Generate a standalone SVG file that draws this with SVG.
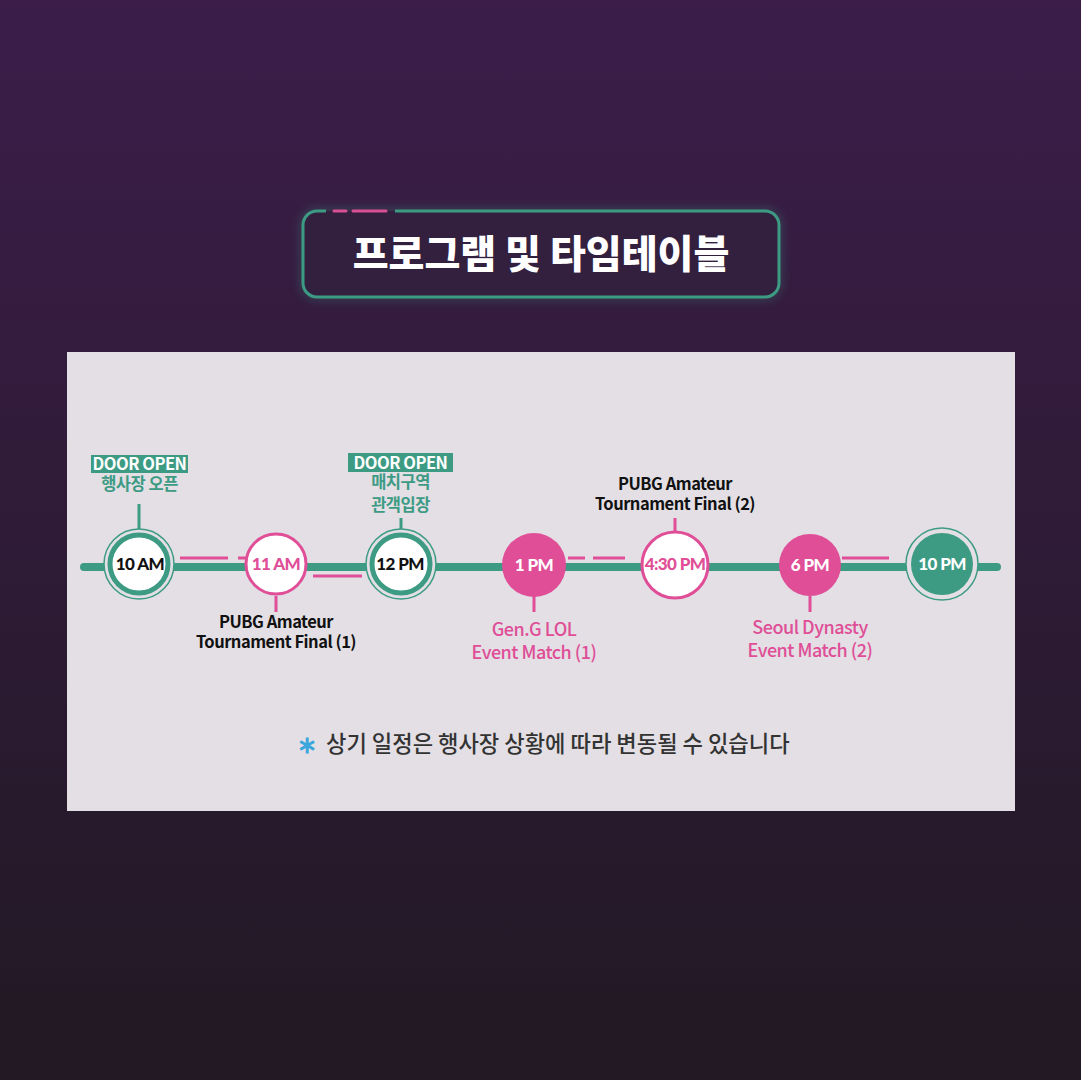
<svg xmlns="http://www.w3.org/2000/svg" width="1081" height="1080" viewBox="0 0 1081 1080">
<defs>
<linearGradient id="bg" x1="0" y1="0" x2="0" y2="1">
<stop offset="0" stop-color="#3c1d4a"/>
<stop offset="1" stop-color="#211923"/>
</linearGradient>
<filter id="glow" x="-10%" y="-30%" width="120%" height="160%">
<feGaussianBlur stdDeviation="5"/>
</filter>
<style>
.kr{font-family:"Noto Sans CJK KR","Noto Sans",sans-serif}
.tl{font-family:Lato,"Noto Sans CJK KR",sans-serif;font-weight:900;font-size:17px;text-anchor:middle;letter-spacing:-0.6px}
.lbl{font-family:"Noto Sans CJK KR","Noto Sans",sans-serif;font-weight:700;font-size:16.5px;text-anchor:middle;letter-spacing:-0.5px}
.pk{font-family:"Noto Sans CJK KR","Noto Sans",sans-serif;font-weight:500;font-size:18px;text-anchor:middle;fill:#df4e97;letter-spacing:-0.5px}
.stemT{stroke:#3d9b84;stroke-width:3}
.stemP{stroke:#df4e97;stroke-width:3}
.dash{stroke:#df4e97;stroke-width:3;fill:none}
</style>
</defs>
<rect width="1081" height="1080" fill="url(#bg)"/>
<g id="title">
<rect x="303" y="211" width="476" height="86" rx="14" fill="none" stroke="#3d9b84" stroke-width="6" opacity="0.35" filter="url(#glow)"/>
<rect x="303" y="211" width="476" height="86" rx="14" fill="#33203f"/>
<path d="M326 211 H317 A14 14 0 0 0 303 225 V283 A14 14 0 0 0 317 297 H765 A14 14 0 0 0 779 283 V225 A14 14 0 0 0 765 211 H395" fill="none" stroke="#3d9b84" stroke-width="3"/>
<line x1="334" y1="211" x2="346" y2="211" stroke="#d94f96" stroke-width="3" stroke-linecap="round"/>
<line x1="353" y1="211" x2="386" y2="211" stroke="#d94f96" stroke-width="3" stroke-linecap="round"/>
<text x="541" y="268" class="kr" font-size="39" font-weight="900" fill="#ffffff" text-anchor="middle">프로그램 및 타임테이블</text>
</g>
<rect id="panel" x="67" y="352" width="948" height="459" fill="#e3dfe4"/>
<g id="connectors">
<line x1="84" y1="567" x2="997" y2="567" stroke="#3d9b84" stroke-width="8" stroke-linecap="round"/>
<line x1="139" y1="504" x2="139" y2="533" class="stemT"/>
<line x1="401" y1="518" x2="401" y2="533" class="stemT"/>
<line x1="276" y1="596" x2="276" y2="612" class="stemP"/>
<line x1="534" y1="596" x2="534" y2="612" class="stemP"/>
<line x1="675" y1="518" x2="675" y2="533" class="stemP"/>
<line x1="810" y1="596" x2="810" y2="612" class="stemP"/>
<line x1="180" y1="558" x2="228" y2="558" class="dash"/>
<line x1="238" y1="558" x2="246" y2="558" class="dash"/>
<line x1="313" y1="576" x2="362" y2="576" class="dash"/>
<line x1="568" y1="558" x2="585" y2="558" class="dash"/>
<line x1="593" y1="558" x2="625" y2="558" class="dash"/>
<line x1="842" y1="558" x2="889" y2="558" class="dash"/>
</g>
<g id="n10am">
<circle cx="139" cy="564" r="35" fill="#e3dfe4" stroke="#3d9b84" stroke-width="1.5"/>
<circle cx="139" cy="564" r="29" fill="#ffffff" stroke="#3d9b84" stroke-width="5"/>
<text x="140" y="570" class="tl" fill="#111111">10 AM</text>
<rect x="91" y="455" width="97" height="18" fill="#3d9b84"/>
<text x="139.5" y="470" class="lbl" fill="#ffffff">DOOR OPEN</text>
<text x="139.5" y="490" class="lbl" fill="#3d9b84">행사장 오픈</text>
</g>
<g id="n11am">
<circle cx="276" cy="564" r="30" fill="#ffffff" stroke="#df4e97" stroke-width="3"/>
<text x="276" y="570" class="tl" fill="#df4e97">11 AM</text>
<text x="276" y="628" class="lbl" fill="#111111">PUBG Amateur</text>
<text x="276" y="648" class="lbl" fill="#111111">Tournament Final (1)</text>
</g>
<g id="n12pm">
<circle cx="401" cy="564" r="35" fill="#e3dfe4" stroke="#3d9b84" stroke-width="1.5"/>
<circle cx="401" cy="564" r="29" fill="#ffffff" stroke="#3d9b84" stroke-width="5"/>
<text x="400" y="570" class="tl" fill="#111111">12 PM</text>
<rect x="348" y="453" width="105" height="19" fill="#3d9b84"/>
<text x="400.5" y="469" class="lbl" fill="#ffffff">DOOR OPEN</text>
<text x="400.5" y="488" class="lbl" fill="#3d9b84">매치구역</text>
<text x="400.5" y="511" class="lbl" fill="#3d9b84">관객입장</text>
</g>
<g id="n1pm">
<circle cx="534" cy="565" r="32" fill="#df4e97"/>
<text x="534" y="571" class="tl" fill="#ffffff">1 PM</text>
<text x="534" y="636" class="pk">Gen.G LOL</text>
<text x="534" y="659" class="pk">Event Match (1)</text>
</g>
<g id="n430pm">
<circle cx="675" cy="565" r="33" fill="#ffffff" stroke="#df4e97" stroke-width="3"/>
<text x="675" y="570" class="tl" fill="#df4e97" font-size="13.5">4:30 PM</text>
<text x="675" y="490" class="lbl" fill="#111111">PUBG Amateur</text>
<text x="675" y="510" class="lbl" fill="#111111">Tournament Final (2)</text>
</g>
<g id="n6pm">
<circle cx="810" cy="565" r="31" fill="#df4e97"/>
<text x="810" y="571" class="tl" fill="#ffffff">6 PM</text>
<text x="810" y="634" class="pk">Seoul Dynasty</text>
<text x="810" y="657" class="pk">Event Match (2)</text>
</g>
<g id="n10pm">
<circle cx="942" cy="564" r="36" fill="#e3dfe4" stroke="#3d9b84" stroke-width="1.5"/>
<circle cx="942" cy="564" r="31" fill="#3d9b84"/>
<text x="942" y="570" class="tl" fill="#ffffff">10 PM</text>
</g>
<g id="note">
<text x="307" y="753" class="kr" font-size="24" font-weight="700" fill="#3ba6dc" text-anchor="middle">∗</text>
<text x="326" y="752" class="kr" font-size="22.2" font-weight="500" fill="#333333">상기 일정은 행사장 상황에 따라 변동될 수 있습니다</text>
</g>
</svg>
